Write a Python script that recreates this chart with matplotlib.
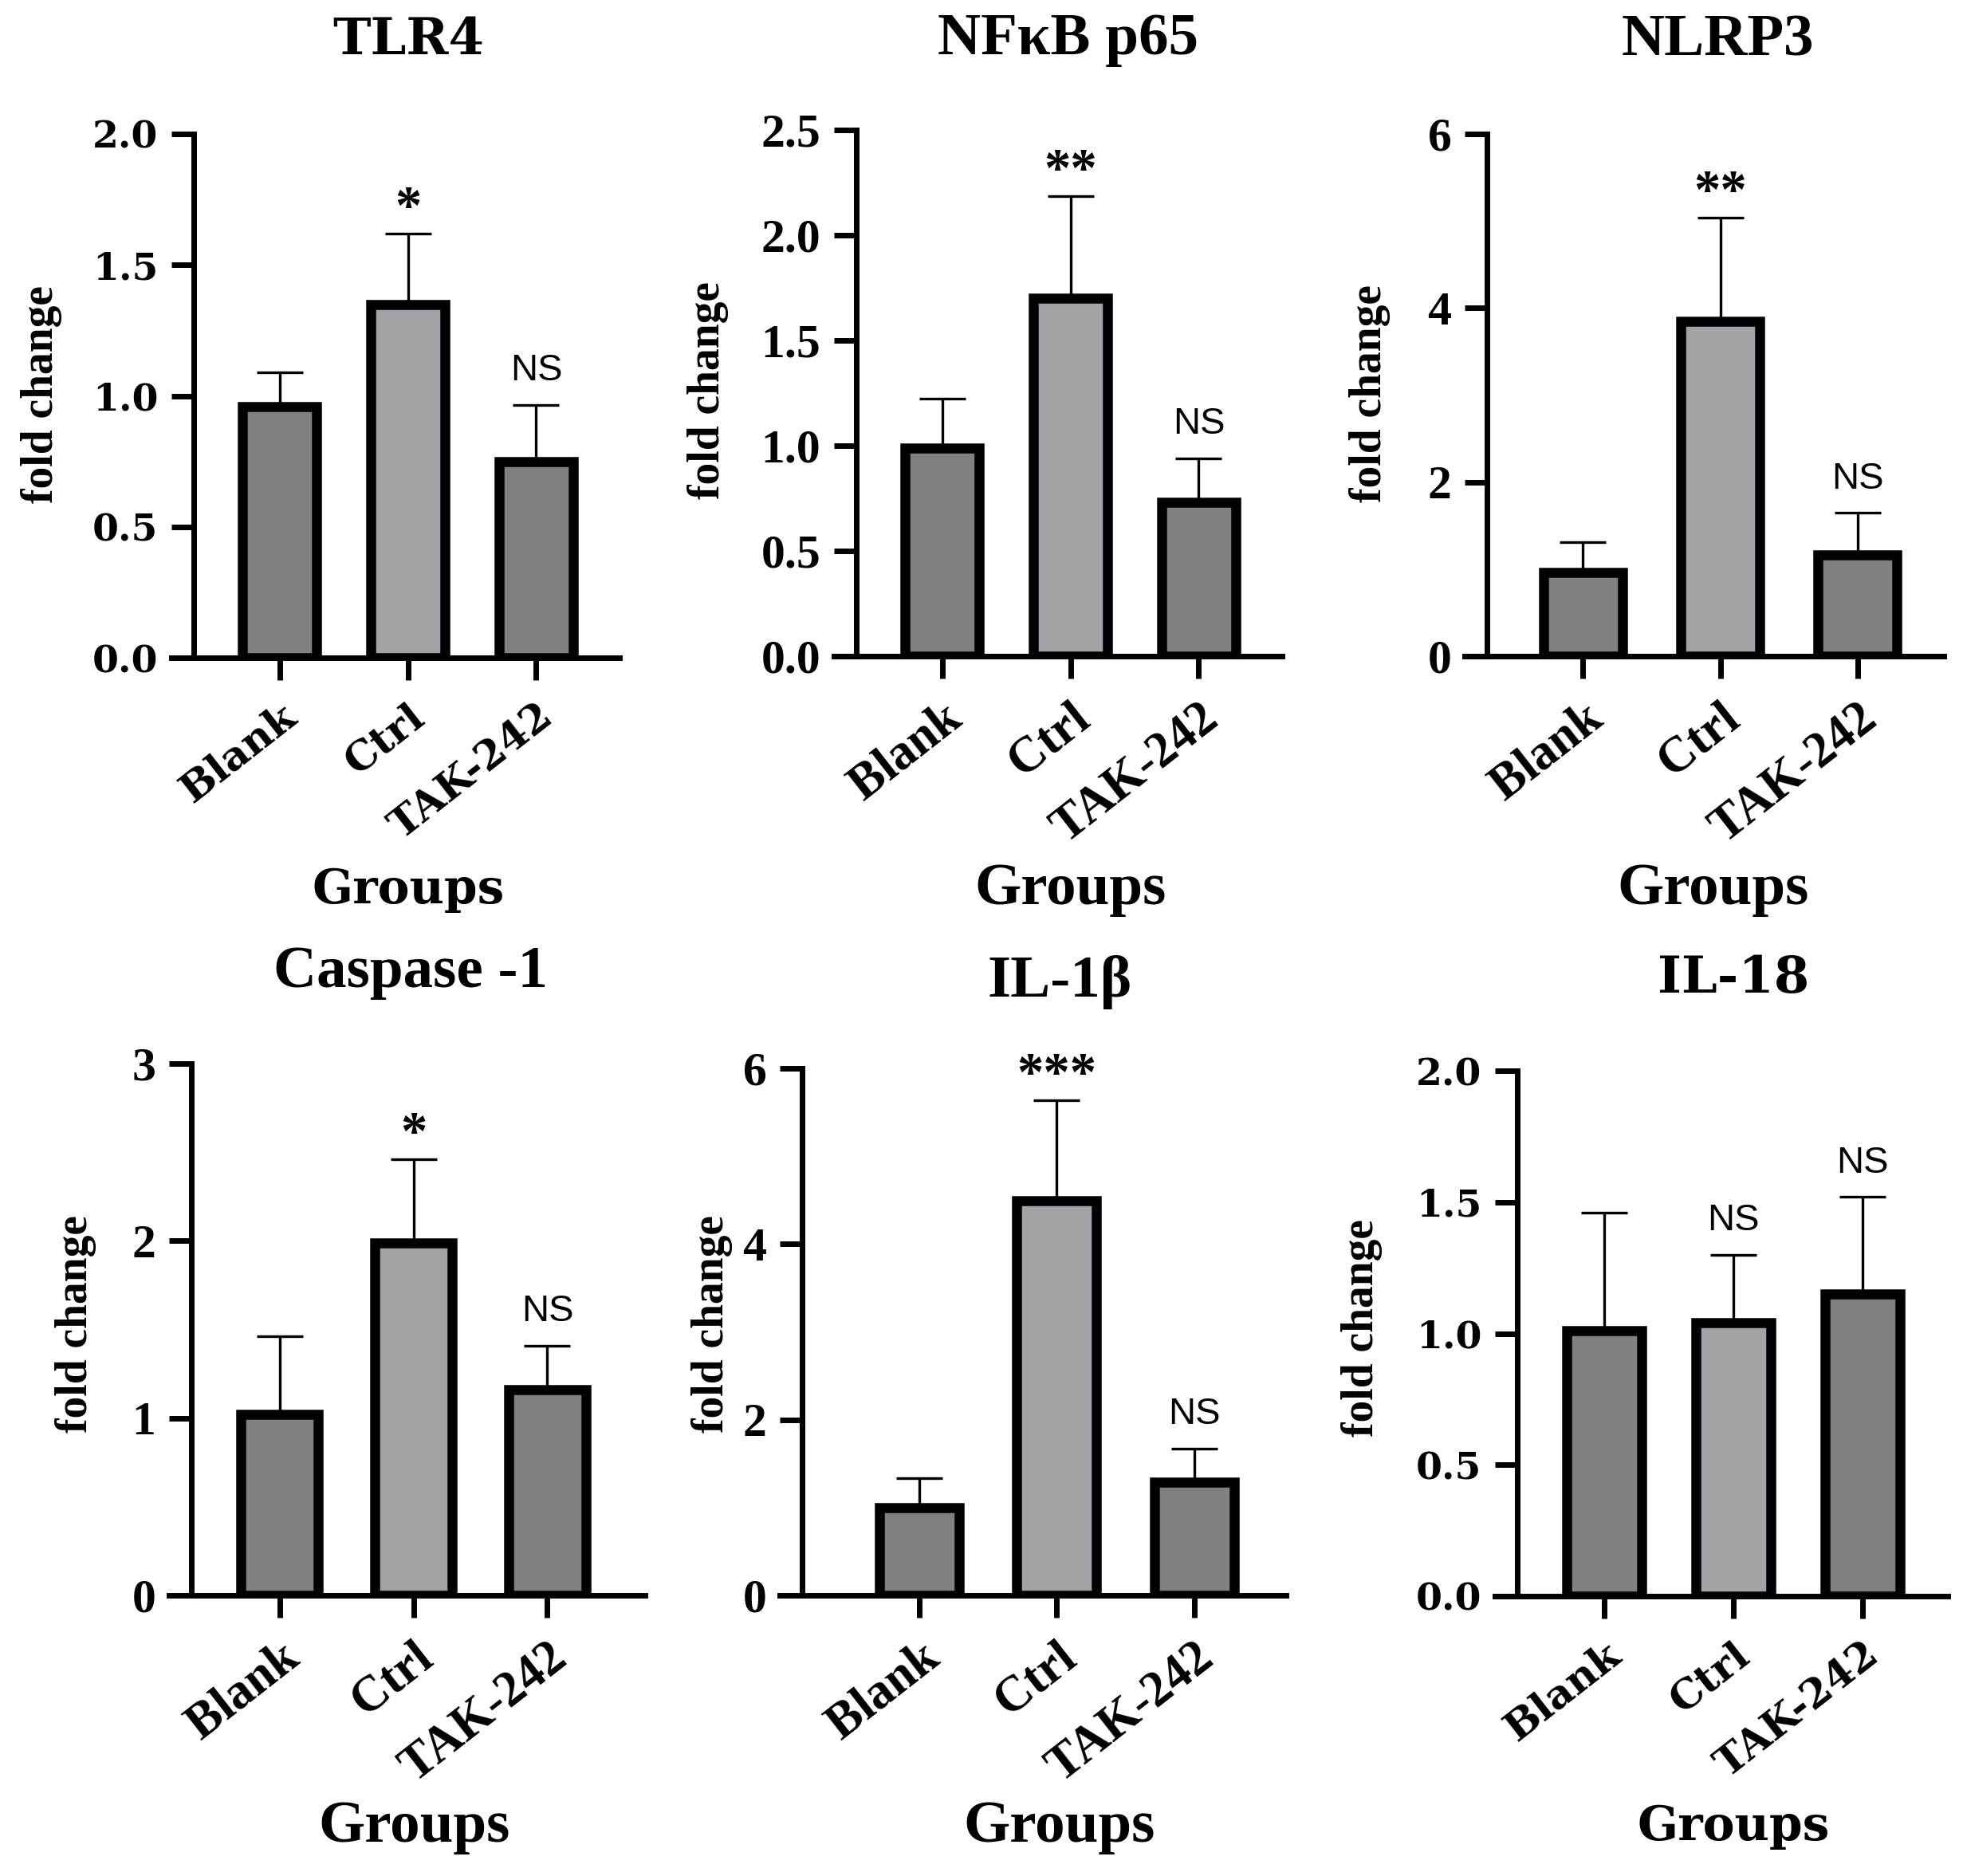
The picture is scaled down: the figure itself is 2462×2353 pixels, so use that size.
import matplotlib
matplotlib.use("Agg")
import matplotlib.pyplot as plt
import numpy as np

groups = ["Blank", "Ctrl", "TAK-242"]
titles = ["TLR4", "NFκB p65", "NLRP3", "Caspase -1", "IL-1β", "IL-18"]

# mean fold change and SD (upper whisker)
tlr4 = [0.96, 1.35, 0.75]
tlr4_sd = [0.13, 0.27, 0.215]
nfkb = [0.99, 1.70, 0.73]
nfkb_sd = [0.235, 0.485, 0.21]
nlrp3 = [0.96, 3.85, 1.16]
nlrp3_sd = [0.35, 1.19, 0.485]
casp1 = [1.02, 1.99, 1.16]
casp1_sd = [0.44, 0.47, 0.25]
il1b = [1.00, 4.49, 1.29]
il1b_sd = [0.33, 1.15, 0.38]
il18 = [1.01, 1.04, 1.15]
il18_sd = [0.45, 0.26, 0.37]

tlr4_sig = ["", "*", "NS"]
nfkb_sig = ["", "**", "NS"]
nlrp3_sig = ["", "**", "NS"]
casp1_sig = ["", "*", "NS"]
il1b_sig = ["", "***", "NS"]
il18_sig = ["", "NS", "NS"]

tlr4_ticks = [0, 0.5, 1.0, 1.5, 2.0]
nfkb_ticks = [0, 0.5, 1.0, 1.5, 2.0, 2.5]
nlrp3_ticks = [0, 2, 4, 6]
casp1_ticks = [0, 1, 2, 3]
il1b_ticks = [0, 2, 4, 6]
il18_ticks = [0, 0.5, 1.0, 1.5, 2.0]

means = [tlr4, nfkb, nlrp3, casp1, il1b, il18]
sds = [tlr4_sd, nfkb_sd, nlrp3_sd, casp1_sd, il1b_sd, il18_sd]
sigs = [tlr4_sig, nfkb_sig, nlrp3_sig, casp1_sig, il1b_sig, il18_sig]
ticks = [tlr4_ticks, nfkb_ticks, nlrp3_ticks, casp1_ticks, il1b_ticks, il18_ticks]
tick_fmt = ["%.1f", "%.1f", "%d", "%d", "%d", "%.1f"]

# layout in pixels: left, right, top tick y, zero y
boxes = [(243, 777, 168, 825), (1074, 1608, 163, 823), (1865, 2438, 168, 823),
         (240, 809, 1334, 2001), (1006, 1613, 1340, 2001), (1903, 2443, 1343, 2002)]
xlims = [(-0.67, 2.65), (-0.67, 2.65), (-0.70, 2.63),
         (-0.66, 2.73), (-0.855, 2.67), (-0.67, 2.66)]
title_xy = [(512, 50), (1340, 50), (2154, 52), (515, 1220), (1329, 1232), (2174, 1227)]
groups_xy = [(512, 1116), (1343, 1116), (2149, 1116), (520, 2292), (1329, 2292), (2174, 2291)]
ylab_xy = [(52, 495), (888, 490), (1718, 494), (95, 1661), (893, 1661), (1708, 1666)]
wide = [True, False, False, False, False, True]

fills = ["#808080", "#a3a3a7", "#808080"]

W, H = 2462, 2353
fig = plt.figure(figsize=(W / 100, H / 100), dpi=100)

tick_px = 28
for i in range(6):
    l, r, t, b = boxes[i]
    ax = fig.add_axes([l / W, 1 - b / H, (r - l) / W, (b - t) / H])
    x = np.arange(len(groups))
    ax.bar(x, means[i], width=0.58, color=fills, edgecolor="black", linewidth=9, zorder=3)
    ax.errorbar(x, means[i], yerr=[np.zeros(3), sds[i]], fmt="none", ecolor="black",
                elinewidth=2.4, capsize=21, capthick=2.4, zorder=2)
    ax.set_xlim(*xlims[i])
    ax.set_ylim(0, ticks[i][-1])

    for s in ["top", "right"]:
        ax.spines[s].set_visible(False)
    for s in ["left", "bottom"]:
        ax.spines[s].set_linewidth(5)
    x0, x1 = xlims[i]
    ax.spines["bottom"].set_bounds(x0 - tick_px / (r - l) * (x1 - x0), x1)

    if wide[i]:
        tfont, tsize, xsize, ttl, grp = "DejaVu Serif", 34, 37, 46, 43
    else:
        tfont, tsize, xsize, ttl, grp = "Liberation Serif", 43, 45, 54, 54

    ax.set_yticks(ticks[i])
    ax.set_yticklabels([tick_fmt[i] % v for v in ticks[i]], family=tfont,
                       fontweight="bold", fontsize=tsize)
    ax.set_xticks(x)
    ax.set_xticklabels(groups, family=tfont, fontweight="bold", fontsize=xsize,
                       rotation=38, ha="right", va="top", rotation_mode="anchor")
    ax.tick_params(axis="both", length=tick_px * 0.72, width=5, direction="out")
    ax.tick_params(axis="y", pad=12)
    ax.tick_params(axis="x", pad=15)

    for j in range(3):
        lab = sigs[i][j]
        if not lab:
            continue
        top = means[i][j] + sds[i][j]
        if lab == "NS":
            ax.annotate(lab, (x[j], top), xytext=(0, 22), textcoords="offset points",
                        ha="center", va="baseline", family="Liberation Sans",
                        fontsize=34, annotation_clip=False)
        else:
            ax.annotate(lab, (x[j], top), xytext=(0, 10), textcoords="offset points",
                        ha="center", va="baseline", family="Liberation Serif",
                        fontweight="bold", fontsize=48, annotation_clip=False)

    tx, ty = title_xy[i]
    fig.text(tx / W, 1 - ty / H, titles[i], ha="center", va="center",
             family=tfont, fontweight="bold", fontsize=ttl)
    gx, gy = groups_xy[i]
    fig.text(gx / W, 1 - gy / H, "Groups", ha="center", va="center",
             family=tfont, fontweight="bold", fontsize=grp)
    yx, yy = ylab_xy[i]
    fig.text(yx / W, 1 - yy / H, "fold change", ha="center", va="center", rotation=90,
             family="Liberation Serif", fontweight="bold", fontsize=40)

fig.savefig("out.png", dpi=100)
